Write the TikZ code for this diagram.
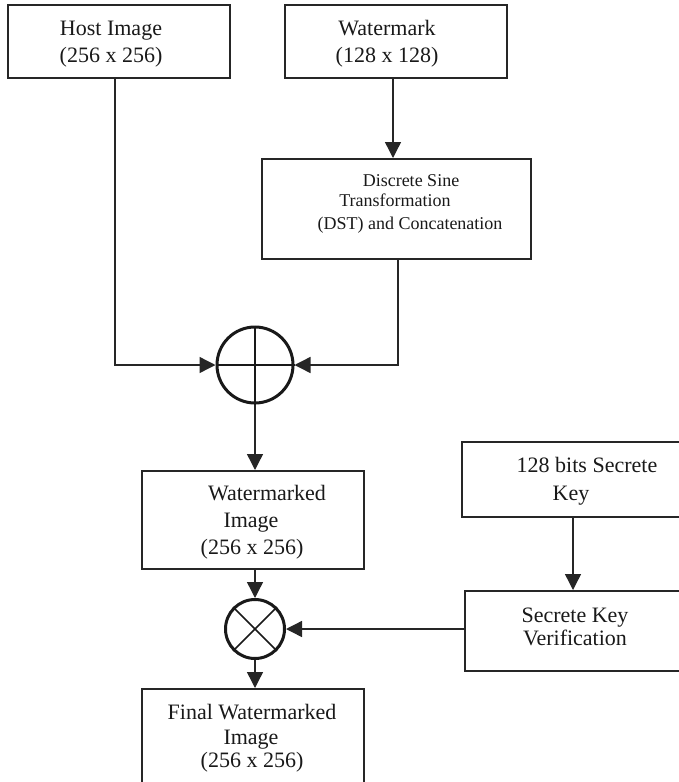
\documentclass[tikz,border=0pt]{standalone}
\usepackage{fontspec}
\setmainfont{Liberation Serif}
\usetikzlibrary{arrows.meta}

\begin{document}
\begin{tikzpicture}[x=0.5pt,y=-0.5pt,
  box/.style={draw=black!85, line width=0.75pt, rectangle, inner sep=0pt, anchor=north west},
  txt/.style={font=\fontsize{11}{13.5}\selectfont, inner sep=0pt, anchor=base, text=black!90},
  smalltxt/.style={font=\fontsize{9}{11}\selectfont, inner sep=0pt, anchor=base, text=black!90},
  conn/.style={draw=black!85, line width=0.7pt, -{Triangle[length=8pt,width=8pt]}},
  op/.style={draw=black!90, circle, inner sep=0pt, line width=1.5pt}
]
\useasboundingbox (0,0) rectangle (679,782);
\clip (0,0) rectangle (679,782);

% boxes
\node[box, minimum width=111pt, minimum height=36.5pt] (host) at (7,4) {};
\node[box, minimum width=111pt, minimum height=36.5pt] (wm) at (284,4) {};
\node[box, minimum width=134.5pt, minimum height=50pt] (dst) at (261,158) {};
\node[box, minimum width=111pt, minimum height=49pt] (wmd) at (141,470) {};
\node[box, minimum width=115pt, minimum height=37.5pt] (key) at (461,441) {};
\node[box, minimum width=113pt, minimum height=40pt] (skv) at (464,590) {};
\node[box, minimum width=111pt, minimum height=56pt] (fin) at (141,688) {};

% combining operators
\node[op, minimum size=38pt] (plus) at (255,365) {};
\draw[line width=1.2pt, black!90] (plus.north) -- (plus.south);
\draw[line width=1.2pt, black!90] (plus.west) -- (plus.east);
\node[op, minimum size=29.5pt] (times) at (255,629) {};
\draw[line width=0.75pt, black!90] (times.45) -- (times.225);
\draw[line width=0.75pt, black!90] (times.135) -- (times.315);

% texts
\node[txt] (host1) at (111,35) {Host Image};
\node[txt] (host2) at (111,62) {(256 x 256)};
\node[txt] (wm1) at (387,35) {Watermark};
\node[txt] (wm2) at (387,62) {(128 x 128)};
\node[smalltxt] (dst1) at (411,186) {Discrete Sine};
\node[smalltxt] (dst2) at (395,206) {Transformation};
\node[smalltxt] (dst3) at (410,229) {(DST) and Concatenation};
\node[txt] (wmd1) at (267,500) {Watermarked};
\node[txt] (wmd2) at (251,527) {Image};
\node[txt] (wmd3) at (252,554) {(256 x 256)};
\node[txt] (key1) at (587,472) {128 bits Secrete};
\node[txt] (key2) at (571,500) {Key};
\node[txt] (skv1) at (575,622) {Secrete Key};
\node[txt] (skv2) at (575,645) {Verification};
\node[txt] (fin1) at (252,719) {Final Watermarked};
\node[txt] (fin2) at (251,744) {Image};
\node[txt] (fin3) at (252,767) {(256 x 256)};

% connector columns
\coordinate (hostx) at (115,0);
\coordinate (wmx) at (393,0);
\coordinate (dstx) at (398,0);
\coordinate (keyx) at (573,0);

% connectors
\draw[conn] (host.south -| hostx) |- (plus.west);
\draw[conn] (wm.south -| wmx) -- (dst.north -| wmx);
\draw[conn] (dst.south -| dstx) |- (plus.east);
\draw[conn] (plus.south) -- (plus.south |- wmd.north);
\draw[conn] (wmd.south -| times.north) -- (times.north);
\draw[conn] (key.south -| keyx) -- (skv.north -| keyx);
\draw[conn] (skv.west |- times.east) -- (times.east);
\draw[conn] (times.south) -- (times.south |- fin.north);
\end{tikzpicture}
\end{document}
